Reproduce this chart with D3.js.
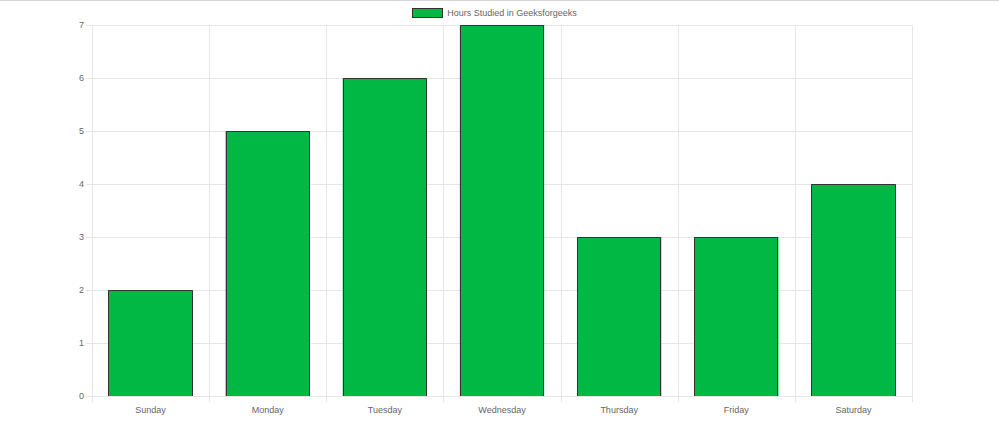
<!DOCTYPE html>
<html>
<head>
<meta charset="utf-8">
<script src="https://cdn.jsdelivr.net/npm/d3@7"></script>
<style>
  html, body { margin: 0; padding: 0; background: #fff; }
  svg { display: block; }
  text { font-family: "Liberation Sans", Arial, Helvetica, sans-serif; }
</style>
</head>
<body>
<svg id="chart" width="999" height="440"></svg>
<script>
const categories = ["Sunday", "Monday", "Tuesday", "Wednesday", "Thursday", "Friday", "Saturday"];
const hoursValues = [2, 5, 6, 7, 3, 3, 4];
const yTicks = [0, 1, 2, 3, 4, 5, 6, 7];
const seriesName = "Hours Studied in Geeksforgeeks";

const W = 999, H = 440;
const plot = { left: 92, right: 912, top: 25, bottom: 396 };
const gridColor = "#e6e6e6";
const textColor = "#666";
const barFill = "#00b843";
const barStroke = "#333";
const fontSize = 9;

const svg = d3.select("#chart");

// top border strip
svg.append("rect").attr("x", 0).attr("y", 0).attr("width", W).attr("height", 1).attr("fill", "#d4d4d4");

const x = d3.scaleBand().domain(categories).range([plot.left, plot.right]).paddingInner(0).paddingOuter(0);
const y = d3.scaleLinear().domain([0, 7]).range([plot.bottom, plot.top]);

// horizontal grid lines + tick marks
const gy = svg.append("g");
gy.selectAll("line").data(yTicks).join("line")
  .attr("x1", plot.left - 6).attr("x2", plot.right)
  .attr("y1", d => Math.round(y(d)) + 0.5).attr("y2", d => Math.round(y(d)) + 0.5)
  .attr("stroke", gridColor).attr("stroke-width", 1);

// vertical grid lines (category boundaries)
const bounds = categories.map(c => x(c)).concat([plot.right]);
svg.append("g").selectAll("line").data(bounds).join("line")
  .attr("x1", d => Math.round(d) + 0.5).attr("x2", d => Math.round(d) + 0.5)
  .attr("y1", plot.top).attr("y2", plot.bottom + 6)
  .attr("stroke", gridColor).attr("stroke-width", 1);

// y labels
svg.append("g").selectAll("text").data(yTicks).join("text")
  .attr("x", plot.left - 8).attr("y", d => y(d))
  .attr("dy", "0.35em").attr("text-anchor", "end")
  .attr("font-size", fontSize).attr("fill", textColor)
  .text(d => d);

// x labels
svg.append("g").selectAll("text").data(categories).join("text")
  .attr("x", d => x(d) + x.bandwidth() / 2).attr("y", 413)
  .attr("text-anchor", "middle")
  .attr("font-size", fontSize).attr("fill", textColor)
  .text(d => d);

// bars (border skipped at bottom, like Chart.js)
const bw = x.bandwidth() * 0.72;
const bars = svg.append("g").selectAll("g").data(categories.map((c, i) => ({ c, v: hoursValues[i] }))).join("g");
bars.append("rect")
  .attr("x", d => x(d.c) + (x.bandwidth() - bw) / 2)
  .attr("y", d => y(d.v))
  .attr("width", bw)
  .attr("height", d => y(0) - y(d.v))
  .attr("fill", barFill);
bars.append("path")
  .attr("d", d => {
    const x0 = Math.round(x(d.c) + (x.bandwidth() - bw) / 2) + 0.5;
    const x1 = Math.round(x(d.c) + (x.bandwidth() + bw) / 2) - 0.5;
    const yt = Math.round(y(d.v)) + 0.5;
    const yb = y(0);
    return `M${x0},${yb}L${x0},${yt}L${x1},${yt}L${x1},${yb}`;
  })
  .attr("fill", "none").attr("stroke", barStroke).attr("stroke-width", 1);

// legend
const lg = svg.append("g");
const lt = lg.append("text").attr("font-size", fontSize).attr("fill", textColor).text(seriesName);
const tw = lt.node().getComputedTextLength();
const total = 30 + 5 + tw;
const lx = 494.5 - total / 2;
lg.insert("rect", "text").attr("x", Math.round(lx) + 0.5).attr("y", 8.5).attr("width", 30).attr("height", 9)
  .attr("fill", barFill).attr("stroke", barStroke).attr("stroke-width", 1);
lt.attr("x", lx + 35).attr("y", 16);
</script>
</body>
</html>
